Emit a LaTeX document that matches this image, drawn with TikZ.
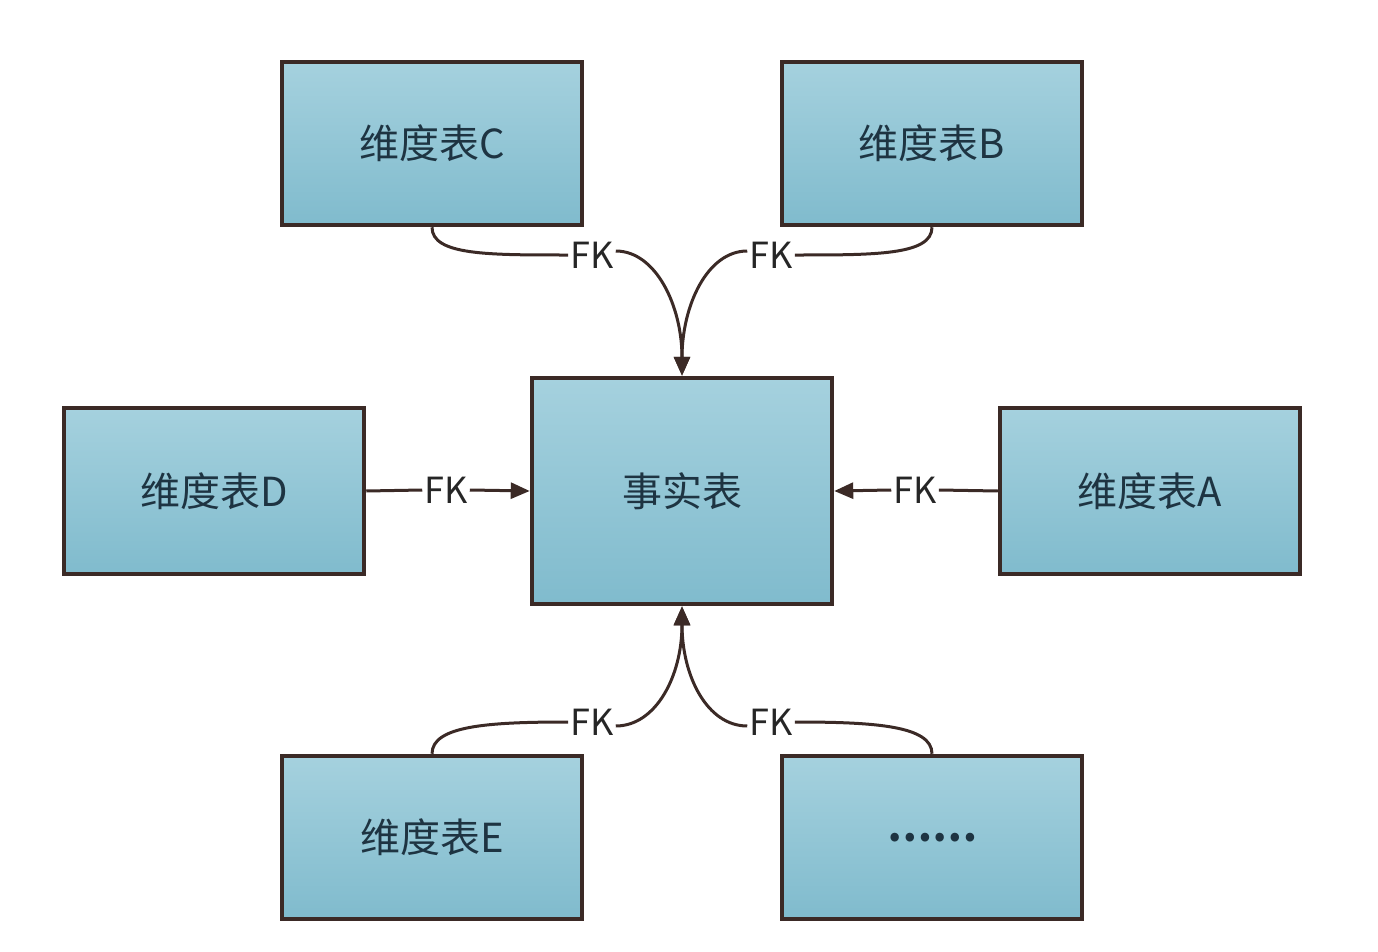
\documentclass[tikz,border=0pt]{standalone}
\usepackage{fontspec}
\setmainfont{Noto Sans CJK SC}
\usetikzlibrary{arrows.meta}
\definecolor{edge}{HTML}{3B2A26}
\definecolor{boxtop}{HTML}{A5D1DE}
\definecolor{boxbot}{HTML}{80BBCD}
\definecolor{txt}{HTML}{1E3442}
\tikzset{
  tbl/.style={draw=edge, line width=4.5pt, top color=boxtop, bottom color=boxbot,
    minimum width=300pt, minimum height=163pt, inner sep=0pt,
    font=\fontsize{40}{44}\selectfont, text=txt},
  fk/.style={inner sep=2pt, font=\fontsize{36}{40}\selectfont, text=black!85},
  conn/.style={draw=edge, line width=3pt},
  arr/.style={conn, -{Triangle[length=19pt,width=16pt]}}
}
\begin{document}
\begin{tikzpicture}[x=1pt,y=-1pt]
\useasboundingbox (0,0) rectangle (1378,952);
\node[tbl] (C) at (432,143.5) {维度表C};
\node[tbl] (B) at (932,143.5) {维度表B};
\node[tbl, minimum height=166pt] (D) at (214,491) {维度表D};
\node[tbl, minimum height=226pt] (F) at (682,491) {事实表};
\node[tbl, minimum height=166pt] (A) at (1150,491) {维度表A};
\node[tbl] (E) at (432,837.5) {维度表E};
\node[tbl, font=\fontsize{40}{44}\selectfont\bfseries] (X) at (932,837.5) {……};

\node[fk] (fkC) at (592,255) {FK};
\node[fk] (fkB) at (771,255) {FK};
\node[fk] (fkD) at (446,490) {FK};
\node[fk] (fkA) at (915,490) {FK};
\node[fk] (fkE) at (592,722) {FK};
\node[fk] (fkX) at (771,722) {FK};

% top
\draw[conn] (C.south) .. controls +(0,28) and +(-80,0) .. (fkC.west);
\draw[arr] ([yshift=4pt]fkC.east) .. controls +(40,0) and +(0,-70) .. (F.north);
\draw[conn] (B.south) .. controls +(0,28) and +(80,0) .. (fkB.east);
\draw[arr] ([yshift=4pt]fkB.west) .. controls +(-40,0) and +(0,-70) .. (F.north);
% sides
\draw[conn] (D.east) -- (fkD.west);
\draw[arr] (fkD.east) -- (F.west);
\draw[conn] (A.west) -- (fkA.east);
\draw[arr] (fkA.west) -- (F.east);
% bottom
\draw[conn] (E.north) .. controls +(0,-28) and +(-80,0) .. (fkE.west);
\draw[arr] ([yshift=-4pt]fkE.east) .. controls +(40,0) and +(0,70) .. (F.south);
\draw[conn] (X.north) .. controls +(0,-28) and +(80,0) .. (fkX.east);
\draw[arr] ([yshift=-4pt]fkX.west) .. controls +(-40,0) and +(0,70) .. (F.south);
\end{tikzpicture}
\end{document}
